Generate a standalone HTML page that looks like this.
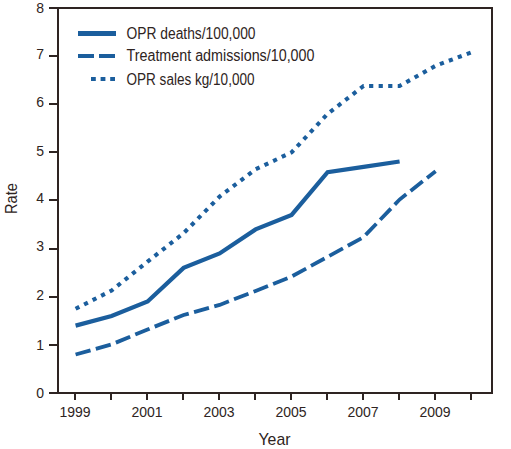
<!DOCTYPE html>
<html><head><meta charset="utf-8">
<style>
html,body{margin:0;padding:0;background:#fff;}
svg{display:block;font-family:"Liberation Sans",sans-serif;}
</style></head><body>
<svg width="511" height="449" viewBox="0 0 511 449">
<rect width="511" height="449" fill="#fff"/>
<g fill="#2e2422" shape-rendering="crispEdges">
<rect x="49" y="7" width="444" height="2"/>
<rect x="57" y="7" width="2" height="387"/>
<rect x="491" y="7" width="2" height="387"/>
<rect x="49" y="392" width="444" height="2"/>
<rect x="49" y="344" width="8" height="2"/>
<rect x="49" y="296" width="8" height="2"/>
<rect x="49" y="248" width="8" height="2"/>
<rect x="49" y="199" width="8" height="2"/>
<rect x="49" y="151" width="8" height="2"/>
<rect x="49" y="103" width="8" height="2"/>
<rect x="49" y="55" width="8" height="2"/>
<rect x="74" y="394" width="2" height="6"/>
<rect x="110" y="394" width="2" height="6"/>
<rect x="146" y="394" width="2" height="6"/>
<rect x="182" y="394" width="2" height="6"/>
<rect x="218" y="394" width="2" height="6"/>
<rect x="254" y="394" width="2" height="6"/>
<rect x="290" y="394" width="2" height="6"/>
<rect x="326" y="394" width="2" height="6"/>
<rect x="362" y="394" width="2" height="6"/>
<rect x="398" y="394" width="2" height="6"/>
<rect x="434" y="394" width="2" height="6"/>
<rect x="470" y="394" width="2" height="6"/>
</g>
<g fill="none" stroke="#1b5e9d" stroke-linecap="butt" stroke-linejoin="miter">
<polyline points="75.60,325.62 111.60,316.00 147.60,301.56 183.60,267.88 219.60,253.44 255.60,229.38 291.60,214.94 327.60,172.11 363.60,166.81 399.60,161.52" stroke-width="4.2"/>
<polyline points="75.60,354.50 111.60,344.39 147.60,329.48 183.60,315.04 219.60,304.93 255.60,290.98 291.60,276.54 327.60,256.81 363.60,237.07 399.60,199.54 435.60,171.14" stroke-width="3.8" stroke-dasharray="15.5 5.5"/>
<polyline points="75.60,308.78 111.60,290.49 147.60,261.62 183.60,233.22 219.60,196.65 255.60,169.22 291.60,152.38 327.60,113.88 363.60,85.96 399.60,85.96 435.60,65.75 471.60,52.27" stroke-width="4.1" stroke-dasharray="4.2 5.35"/>
<line x1="78" y1="33.5" x2="116" y2="33.5" stroke-width="5"/>
<line x1="78" y1="56" x2="115" y2="56" stroke-width="4" stroke-dasharray="16 5"/>
<line x1="91" y1="79" x2="115" y2="79" stroke-width="4" stroke-dasharray="4.8 4.8"/>
</g>
<g fill="#2e2422" font-size="14">
<text x="44" y="397.5" text-anchor="end">0</text>
<text x="44" y="350.4" text-anchor="end">1</text>
<text x="44" y="300.2" text-anchor="end">2</text>
<text x="44" y="251.1" text-anchor="end">3</text>
<text x="44" y="203.0" text-anchor="end">4</text>
<text x="44" y="155.9" text-anchor="end">5</text>
<text x="44" y="106.8" text-anchor="end">6</text>
<text x="44" y="58.6" text-anchor="end">7</text>
<text x="44" y="12.5" text-anchor="end">8</text>
<text x="75" y="417" text-anchor="middle">1999</text>
<text x="147" y="417" text-anchor="middle">2001</text>
<text x="219" y="417" text-anchor="middle">2003</text>
<text x="291" y="417" text-anchor="middle">2005</text>
<text x="363" y="417" text-anchor="middle">2007</text>
<text x="435" y="417" text-anchor="middle">2009</text>
<g font-size="15.6">
<text x="126.5" y="39" textLength="129" lengthAdjust="spacingAndGlyphs">OPR deaths/100,000</text>
<text x="126.5" y="61" textLength="188" lengthAdjust="spacingAndGlyphs">Treatment admissions/10,000</text>
<text x="126.5" y="85" textLength="128" lengthAdjust="spacingAndGlyphs">OPR sales kg/10,000</text>
</g>
<text x="258.5" y="444.8" font-size="17" textLength="32" lengthAdjust="spacingAndGlyphs">Year</text>
<text transform="translate(17,214) rotate(-90)" font-size="17" textLength="30.8" lengthAdjust="spacingAndGlyphs">Rate</text>
</g>
</svg>
</body></html>
